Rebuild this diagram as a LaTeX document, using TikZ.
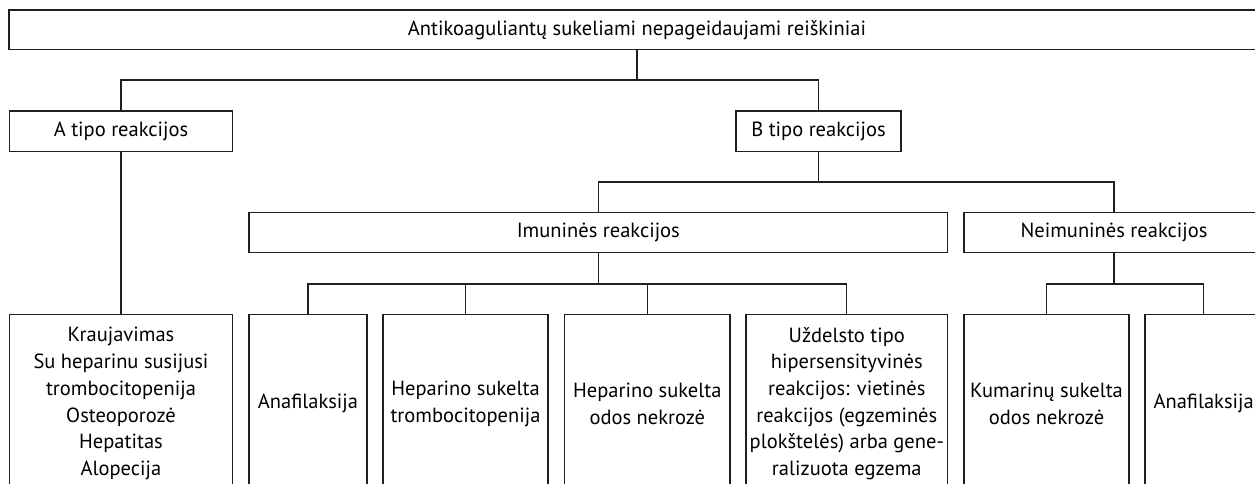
\documentclass[tikz,border=0pt]{standalone}
\usepackage{fontspec}
\setmainfont{PT Sans}
\begin{document}
\begin{tikzpicture}[x=1pt,y=-1pt,
  box/.style={draw=black!88,line width=1.1pt,rectangle,inner sep=0pt,align=center,
    font=\fontsize{20.5}{26.7}\selectfont,text=black},
  conn/.style={draw=black!88,line width=1.1pt}]
\useasboundingbox (0,0) rectangle (1255,483);
\clip (0,0) rectangle (1255,483);
% level 0
\node[box,minimum width=1256pt,minimum height=39.5pt] (top) at (637,29.75) {Antikoaguliantų sukeliami nepageidaujami reiškiniai};
% level 1
\node[box,minimum width=223.7pt,minimum height=40.5pt] (A) at (121,131.25) {A tipo reakcijos};
\node[box,minimum width=165pt,minimum height=40.5pt] (B) at (818.5,131.25) {B tipo reakcijos};
% level 2
\node[box,minimum width=698.7pt,minimum height=40pt] (imun) at (598.3,232.7) {Imuninės reakcijos};
\node[box,minimum width=300pt,minimum height=40pt] (neimun) at (1114,232.7) {Neimuninės reakcijos};
% level 3
\node[box,minimum width=223.7pt,minimum height=178.6pt] (alist) at (121,403.6) {Kraujavimas\\Su heparinu susijusi\\trombocitopenija\\Osteoporozė\\Hepatitas\\Alopecija};
\node[box,minimum width=118pt,minimum height=178.6pt] (ana1) at (308,403.6) {Anafilaksija};
\node[box,minimum width=165pt,minimum height=178.6pt] (hep1) at (465.5,403.6) {Heparino sukelta\\trombocitopenija};
\node[box,minimum width=165.3pt,minimum height=178.6pt] (hep2) at (647.3,403.6) {Heparino sukelta\\odos nekrozė};
\node[box,minimum width=201.7pt,minimum height=178.6pt] (uzd) at (846.8,403.6) {Uždelsto tipo\\hipersensityvinės\\reakcijos: vietinės\\reakcijos (egzeminės\\plokštelės) arba gene-\\ralizuota egzema};
\node[box,minimum width=165pt,minimum height=178.6pt] (kum) at (1046.5,403.6) {Kumarinų sukelta\\odos nekrozė};
\node[box,minimum width=117.4pt,minimum height=178.6pt] (ana2) at (1203.7,403.6) {Anafilaksija};
% connectors
\coordinate (h1) at (0,80);
\coordinate (h2) at (0,182);
\coordinate (h3) at (0,284);
\draw[conn] (top.south) -- (top.south |- h1) -| (A.north);
\draw[conn] (top.south |- h1) -| (B.north);
\draw[conn] (A.south) -- (alist.north);
\draw[conn] (B.south) -- (B.south |- h2) -| (imun.north);
\draw[conn] (B.south |- h2) -| (neimun.north);
\draw[conn] (imun.south) -- (imun.south |- h3);
\draw[conn] (ana1.north) |- (uzd.north |- h3) -- (uzd.north);
\draw[conn] (hep1.north) -- (hep1.north |- h3);
\draw[conn] (hep2.north) -- (hep2.north |- h3);
\draw[conn] (neimun.south) -- (neimun.south |- h3);
\draw[conn] (kum.north) |- (ana2.north |- h3) -- (ana2.north);
\end{tikzpicture}
\end{document}
